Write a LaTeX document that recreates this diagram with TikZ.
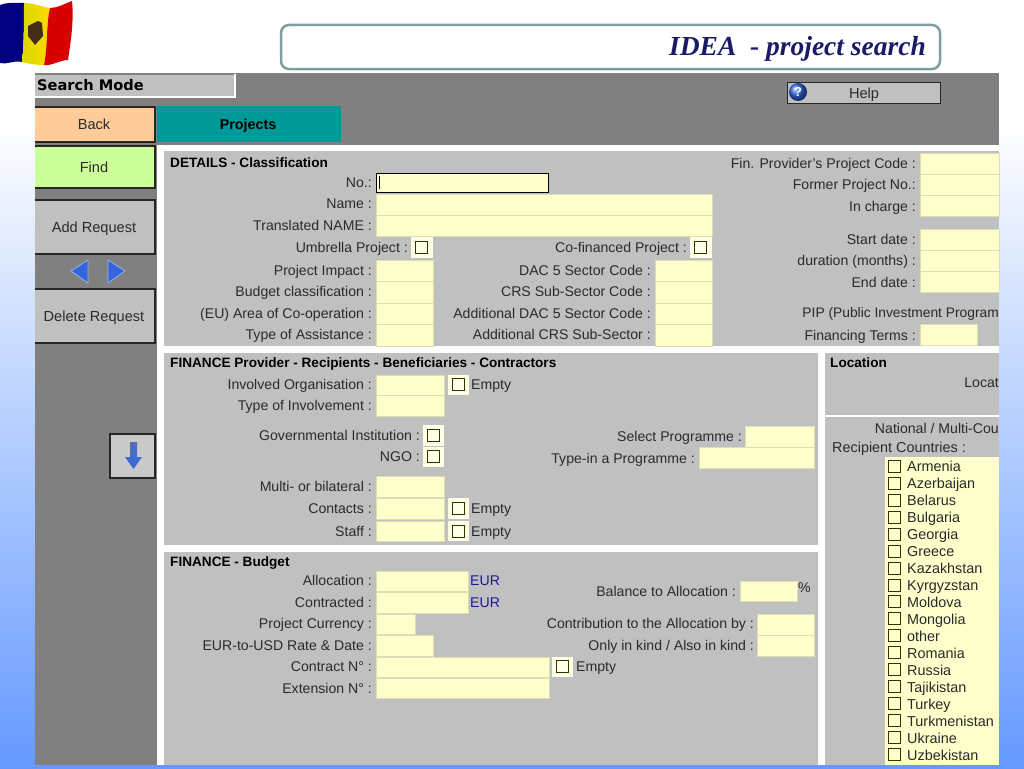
\documentclass[tikz,border=0pt]{standalone}
\usepackage{fontspec}
\setmainfont{Liberation Sans}
\newfontfamily\titlefont{Liberation Serif}
\newfontfamily\modefont{DejaVu Sans}
\usetikzlibrary{positioning}
\definecolor{barGray}{HTML}{808080}
\definecolor{panelGray}{HTML}{C0C0C0}
\definecolor{fieldYellow}{HTML}{FFFFCC}
\definecolor{seamYellow}{HTML}{DEDEB4}
\definecolor{bgBlue}{HTML}{6699FF}
\definecolor{frameTeal}{HTML}{7F9F9F}
\definecolor{titleNavy}{HTML}{1A1A66}
\definecolor{tabTeal}{HTML}{009999}
\definecolor{backOrange}{HTML}{FFCC99}
\definecolor{findGreen}{HTML}{CCFF99}
\definecolor{arrowBlue}{HTML}{3366DD}
\definecolor{eurBlue}{HTML}{1A1A99}
\definecolor{boxOlive}{HTML}{333300}
\definecolor{textDark}{HTML}{2A2A2A}

\begin{document}
\begin{tikzpicture}
    [
        x=1pt, y=-1pt,
        field/.style={fill=fieldYellow, draw=seamYellow, line width=0.4pt},
        panel/.style={fill=panelGray},
        chkback/.style={fill=fieldYellow!45!white},
        chkbox/.style={rectangle, draw=boxOlive, line width=1pt, inner sep=0pt, minimum size=12pt},
        lbl/.style={anchor=mid east, inner sep=0pt, yshift=-3pt, text=textDark, font=\fontsize{14.1}{15}\selectfont},
        lbll/.style={lbl, anchor=mid west},
        hdr/.style={lbll, text=black, font=\fontsize{13.6}{15}\selectfont\bfseries},
        eur/.style={lbll, text=eurBlue},
        cntry/.style={lbll, font=\fontsize{14.4}{15}\selectfont},
        button/.style={line width=1.4pt, draw=black!85},
        btntext/.style={anchor=mid, inner sep=0pt, yshift=-3pt, text=textDark, font=\fontsize{14.6}{15}\selectfont}
    ]

    \useasboundingbox (0, 0) rectangle (1024, 768);
    \fill [white] (0, 0) rectangle (1024, 120);
    \shade [top color=white, bottom color=bgBlue] (0, 120) rectangle (1024, 768);

    \fill [blue!50!black] (0, 5) .. controls (8, 2) and (16, 3) .. (24, 3) .. controls (24, 20) and (24, 45) .. (22, 62) .. controls (14, 60) and (6, 65) .. (0, 63) -- cycle;
    \shade [left color=yellow!85!black, right color=yellow!70!orange] (24, 3) .. controls (32, 3) and (40, 6) .. (50, 8) .. controls (46, 25) and (48, 45) .. (44, 65) .. controls (36, 65) and (30, 64) .. (22, 62) .. controls (24, 45) and (24, 20) .. (24, 3) -- cycle;
    \fill [red!85!black] (50, 8) .. controls (57, 8) and (64, 4) .. (72, 1) .. controls (74, 20) and (71, 40) .. (68, 60) .. controls (60, 60) and (52, 66) .. (44, 65) .. controls (48, 45) and (46, 25) .. (50, 8) -- cycle;
    \fill [black!65!brown] (34, 23) -- (38, 21) -- (42, 23) -- (43, 36) -- (35, 45) -- (28, 36) -- (28, 26) -- cycle;

    \draw [frameTeal, line width=2.5pt, fill=white, rounded corners=8pt] (281, 25) rectangle (940, 69);
    \node [anchor=base east, inner sep=0pt, text=titleNavy, font=\titlefont\fontsize{27.5}{30}\selectfont\bfseries\itshape] (title) at (926, 56) {IDEA\ \ - project search};

    \fill [barGray] (35, 73) rectangle (999, 765);
    \fill [white] (157, 145) rectangle (999, 765);
    \fill [panelGray] (35, 75) rectangle (234, 96);
    \draw [white, line width=2pt] (235, 74) -- (235, 97) -- (35, 97);
    \node [lbll, text=black, font=\modefont\fontsize{14.6}{15}\selectfont\bfseries] (searchmode) at (37, 85) {Search Mode};

    \fill [backOrange] (35, 107) rectangle (155, 142);
    \draw [button] (35, 107) -- (155, 107) -- (155, 142) -- (35, 142);
    \node [btntext] (back) at (94, 124) {Back};
    \fill [tabTeal] (157, 106) rectangle (341, 142);
    \node [btntext, text=black, font=\fontsize{14.3}{15}\selectfont\bfseries] (projects) at (248, 124) {Projects};
    \fill [findGreen] (35, 146) rectangle (155, 188);
    \draw [button] (35, 146) -- (155, 146) -- (155, 188) -- (35, 188);
    \node [btntext] (find) at (94, 167) {Find};
    \fill [panelGray] (35, 200) rectangle (155, 254);
    \draw [button] (35, 200) -- (155, 200) -- (155, 254) -- (35, 254);
    \node [btntext] (addrequest) at (94, 227) {Add Request};
    \fill [panelGray] (35, 289) rectangle (155, 343);
    \draw [button] (35, 289) -- (155, 289) -- (155, 343) -- (35, 343);
    \node [btntext] (delrequest) at (94, 316) {Delete Request};

    \draw [arrowBlue!50!white, line width=0.8pt, fill=arrowBlue] (71, 271) -- (88, 260) -- (88, 283) -- cycle;
    \draw [arrowBlue!50!white, line width=0.8pt, fill=arrowBlue] (125, 271) -- (108, 260) -- (108, 283) -- cycle;

    \fill [panelGray!85!white] (110, 434) rectangle (155, 478);
    \draw [black!85, line width=1.1pt] (110, 434) rectangle (155, 478);
    \shade [top color=arrowBlue!60!gray, bottom color=arrowBlue] (130, 442) -- (137, 442) -- (137, 457) -- (142, 457) -- (133.5, 469) -- (125, 457) -- (130, 457) -- cycle;

    \fill [panelGray] (787, 82) rectangle (940, 103);
    \draw [black!85, line width=1pt] (787, 82) rectangle (940, 103);
    \shade [ball color=arrowBlue] (798, 92) circle (9);
    \node [anchor=mid, inner sep=0pt, yshift=-2pt, text=white, font=\fontsize{13}{15}\selectfont\bfseries] (helpmark) at (798, 92) {?};
    \node [btntext] (help) at (864, 93) {Help};

    \fill [panel] (164, 151) rectangle (999, 346);
    \fill [panel] (164, 353) rectangle (818, 545);
    \fill [panel] (164, 552) rectangle (818, 765);
    \fill [panel] (825, 353) rectangle (999, 415);
    \fill [panel] (825, 417) rectangle (999, 765);

    \node [hdr] (details) at (170, 162) {DETAILS - Classification};
    \node [lbl] (no) at (372, 182) {No.:};
    \node [lbl] (name) at (372, 203) {Name :};
    \node [lbl] (transl) at (372, 225) {Translated NAME :};
    \node [lbl] (umbrella) at (408, 247) {Umbrella Project :};
    \node [lbl] (impact) at (372, 270) {Project Impact :};
    \node [lbl] (budgetcl) at (372, 291) {Budget classification :};
    \node [lbl] (area) at (372, 313) {(EU) Area of Co-operation :};
    \node [lbl] (assist) at (372, 334) {Type of Assistance :};

    \fill [fieldYellow] (376, 173) rectangle (548, 192);
    \draw [black, line width=1pt] (376, 173) rectangle (548, 192);
    \draw [black, line width=1pt] (379, 176) -- (379, 189);
    \draw [field] (376, 194) rectangle (712, 215);
    \draw [field] (376, 215) rectangle (712, 236);
    \fill [chkback] (411, 237) rectangle (433, 258);
    \node [chkbox] (cumbrella) at (421, 247) {};
    \draw [field] (376, 260) rectangle (433, 281);
    \draw [field] (376, 281) rectangle (433, 303);
    \draw [field] (376, 303) rectangle (433, 324);
    \draw [field] (376, 324) rectangle (433, 346);

    \node [lbl] (cofin) at (687, 247) {Co-financed Project :};
    \node [lbl] (dac) at (651, 270) {DAC 5 Sector Code :};
    \node [lbl] (crs) at (651, 291) {CRS Sub-Sector Code :};
    \node [lbl] (adddac) at (651, 313) {Additional DAC 5 Sector Code :};
    \node [lbl] (addcrs) at (651, 334) {Additional CRS Sub-Sector :};
    \fill [chkback] (690, 237) rectangle (712, 258);
    \node [chkbox] (ccofin) at (700, 247) {};
    \draw [field] (655, 260) rectangle (712, 281);
    \draw [field] (655, 281) rectangle (712, 303);
    \draw [field] (655, 303) rectangle (712, 324);
    \draw [field] (655, 324) rectangle (712, 346);

    \node [lbl] (fincode) at (916, 163) {Fin. Provider's Project Code :};
    \node [lbl] (former) at (916, 184) {Former Project No.:};
    \node [lbl] (incharge) at (916, 206) {In charge :};
    \node [lbl] (start) at (916, 239) {Start date :};
    \node [lbl] (duration) at (916, 260) {duration (months) :};
    \node [lbl] (enddate) at (916, 282) {End date :};
    \node [lbl, font=\fontsize{13.8}{15}\selectfont] (pip) at (999, 312) {PIP (Public Investment Program};
    \node [lbl] (terms) at (916, 335) {Financing Terms :};
    \draw [field] (920, 153) rectangle (999, 174);
    \draw [field] (920, 174) rectangle (999, 195);
    \draw [field] (920, 195) rectangle (999, 216);
    \draw [field] (920, 229) rectangle (999, 250);
    \draw [field] (920, 250) rectangle (999, 271);
    \draw [field] (920, 271) rectangle (999, 292);
    \draw [field] (920, 324) rectangle (977, 345);

    \node [hdr] (provider) at (170, 362) {FINANCE Provider - Recipients - Beneficiaries - Contractors};
    \node [lbl] (involved) at (372, 384) {Involved Organisation :};
    \node [lbl] (involvement) at (372, 405) {Type of Involvement :};
    \node [lbl] (govern) at (420, 435) {Governmental Institution :};
    \node [lbl] (ngo) at (420, 456) {NGO :};
    \node [lbl] (multi) at (372, 486) {Multi- or bilateral :};
    \node [lbl] (contacts) at (372, 508) {Contacts :};
    \node [lbl] (staff) at (372, 531) {Staff :};
    \draw [field] (376, 375) rectangle (444, 395);
    \draw [field] (376, 395) rectangle (444, 416);
    \draw [field] (376, 476) rectangle (444, 497);
    \draw [field] (376, 498) rectangle (444, 519);
    \draw [field] (376, 521) rectangle (444, 541);
    \fill [chkback] (448, 375) rectangle (469, 395);
    \node [chkbox] (cinvolved) at (458, 384) {};
    \node [lbll] (empty1) at (471, 384) {Empty};
    \fill [chkback] (423, 425) rectangle (444, 446);
    \node [chkbox] (cgovern) at (433, 435) {};
    \fill [chkback] (423, 447) rectangle (444, 467);
    \node [chkbox] (cngo) at (433, 456) {};
    \fill [chkback] (448, 498) rectangle (469, 519);
    \node [chkbox] (ccontacts) at (458, 508) {};
    \node [lbll] (empty2) at (471, 508) {Empty};
    \fill [chkback] (448, 521) rectangle (469, 541);
    \node [chkbox] (cstaff) at (458, 531) {};
    \node [lbll] (empty3) at (471, 531) {Empty};
    \node [lbl] (selprog) at (742, 436) {Select Programme :};
    \node [lbl] (typeprog) at (695, 458) {Type-in a Programme :};
    \draw [field] (745, 426) rectangle (814, 447);
    \draw [field] (699, 447) rectangle (814, 468);

    \node [hdr] (budget) at (170, 561) {FINANCE - Budget};
    \node [lbl] (alloc) at (372, 580) {Allocation :};
    \node [lbl] (contracted) at (372, 602) {Contracted :};
    \node [lbl] (currency) at (372, 623) {Project Currency :};
    \node [lbl] (rate) at (372, 645) {EUR-to-USD Rate \& Date :};
    \node [lbl] (contract) at (372, 666) {Contract N° :};
    \node [lbl] (extension) at (372, 688) {Extension N° :};
    \draw [field] (376, 571) rectangle (468, 591);
    \draw [field] (376, 592) rectangle (468, 613);
    \draw [field] (376, 614) rectangle (415, 634);
    \draw [field] (376, 635) rectangle (433, 656);
    \draw [field] (376, 657) rectangle (549, 677);
    \draw [field] (376, 678) rectangle (549, 698);
    \node [eur] (eur1) at (470, 580) {EUR};
    \node [eur] (eur2) at (470, 602) {EUR};
    \fill [chkback] (552, 657) rectangle (573, 677);
    \node [chkbox] (ccontract) at (562, 666) {};
    \node [lbll] (empty4) at (576, 666) {Empty};
    \node [lbl] (balance) at (736, 591) {Balance to Allocation :};
    \draw [field] (740, 581) rectangle (797, 601);
    \node [lbll] (percent) at (798, 587) {\%};
    \node [lbl] (contrib) at (754, 623) {Contribution to the Allocation by :};
    \node [lbl] (inkind) at (754, 645) {Only in kind / Also in kind :};
    \draw [field] (757, 614) rectangle (814, 635);
    \draw [field] (757, 635) rectangle (814, 656);

    \node [hdr] (location) at (830, 362) {Location};
    \node [lbl] (locat) at (999, 382) {Locat};
    \node [lbl] (national) at (999, 428) {National / Multi-Cou};
    \node [cntry] (recipient) at (832, 447) {Recipient Countries :};
    \fill [fieldYellow] (885, 457) rectangle (999, 765);

    \node [chkbox] (c1) at (894, 466) {};
    \node [chkbox] (c2) at (894, 483) {};
    \node [chkbox] (c3) at (894, 500) {};
    \node [chkbox] (c4) at (894, 517) {};
    \node [chkbox] (c5) at (894, 534) {};
    \node [chkbox] (c6) at (894, 551) {};
    \node [chkbox] (c7) at (894, 568) {};
    \node [chkbox] (c8) at (894, 585) {};
    \node [chkbox] (c9) at (894, 601) {};
    \node [chkbox] (c10) at (894, 618) {};
    \node [chkbox] (c11) at (894, 635) {};
    \node [chkbox] (c12) at (894, 652) {};
    \node [chkbox] (c13) at (894, 669) {};
    \node [chkbox] (c14) at (894, 686) {};
    \node [chkbox] (c15) at (894, 703) {};
    \node [chkbox] (c16) at (894, 720) {};
    \node [chkbox] (c17) at (894, 737) {};
    \node [chkbox] (c18) at (894, 754) {};

    \node [cntry] (armenia) at (907, 466) {Armenia};
    \node [cntry] (azerbaijan) at (907, 483) {Azerbaijan};
    \node [cntry] (belarus) at (907, 500) {Belarus};
    \node [cntry] (bulgaria) at (907, 517) {Bulgaria};
    \node [cntry] (georgia) at (907, 534) {Georgia};
    \node [cntry] (greece) at (907, 551) {Greece};
    \node [cntry] (kazakhstan) at (907, 568) {Kazakhstan};
    \node [cntry] (kyrgyzstan) at (907, 585) {Kyrgyzstan};
    \node [cntry] (moldova) at (907, 602) {Moldova};
    \node [cntry] (mongolia) at (907, 619) {Mongolia};
    \node [cntry] (other) at (907, 636) {other};
    \node [cntry] (romania) at (907, 653) {Romania};
    \node [cntry] (russia) at (907, 670) {Russia};
    \node [cntry] (tajikistan) at (907, 687) {Tajikistan};
    \node [cntry] (turkey) at (907, 704) {Turkey};
    \node [cntry] (turkmenistan) at (907, 721) {Turkmenistan};
    \node [cntry] (ukraine) at (907, 738) {Ukraine};
    \node [cntry] (uzbekistan) at (907, 755) {Uzbekistan};
\end{tikzpicture}
\end{document}
